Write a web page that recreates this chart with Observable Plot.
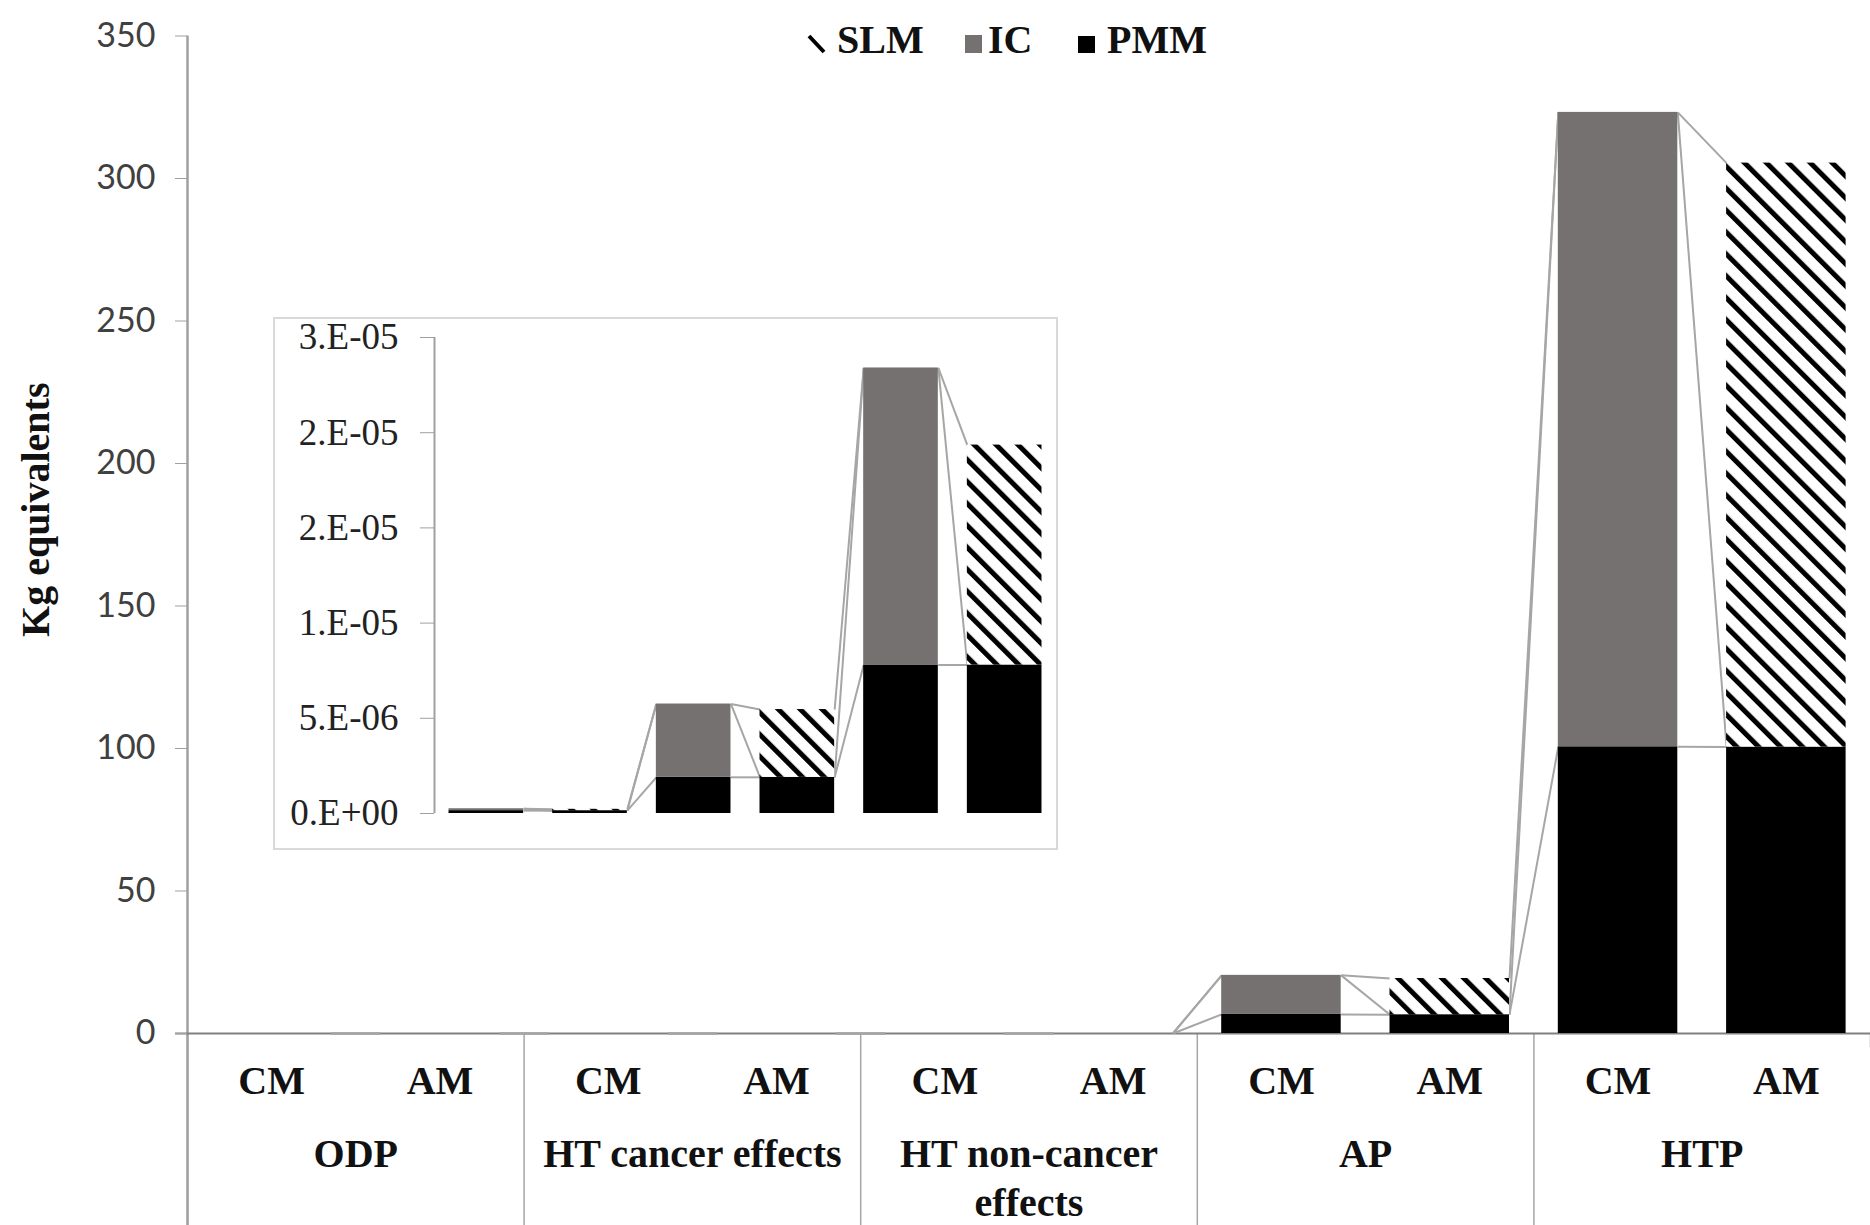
<!DOCTYPE html>
<html><head><meta charset="utf-8">
<script src="https://cdn.jsdelivr.net/npm/d3@7"></script>
<script src="https://cdn.jsdelivr.net/npm/@observablehq/plot@0.6"></script>
<style>
html,body{margin:0;padding:0;background:#fff;}
#root{position:relative;width:1870px;height:1225px;overflow:hidden;background:#fff;}
#main{position:absolute;left:0;top:0;}
#inset{position:absolute;left:273px;top:317px;width:785px;height:533px;border:2px solid #d9d9d9;box-sizing:border-box;background:#fff;}
.legtxt{position:absolute;font-family:"Liberation Serif",serif;font-weight:bold;font-size:40px;line-height:40px;color:#111;white-space:nowrap;}
.sw{position:absolute;}
</style></head>
<body>
<svg width="0" height="0" style="position:absolute">
  <defs>
    <pattern id="hatch" patternUnits="userSpaceOnUse" width="15.5" height="15.5" patternTransform="rotate(-45)">
      <rect width="15.5" height="15.5" fill="#fff"></rect>
      <rect width="5" height="15.5" fill="#000"></rect>
    </pattern>
  </defs>
</svg>
<div id="root">
  <div id="main"></div>
  <div id="inset"></div>
  <div id="legend"></div>
</div>
<script>
// ---- data ----
const groups = ["ODP", "HT cancer effects", "HT non-cancer effects", "AP", "HTP"];
const scenarios = ["CM", "AM"];
const pmm = [1.5e-7, 1.5e-7, 1.9e-6, 1.9e-6, 7.8e-6, 7.8e-6, 6.7, 6.6, 100.6, 100.5];
const ic  = [1.0e-7, 0, 3.85e-6, 0, 1.56e-5, 0, 13.7, 0, 222.6, 0];
const slm = [0, 0.7e-7, 0, 3.56e-6, 0, 1.155e-5, 0, 12.7, 0, 204.9];
const yTicks = [0, 50, 100, 150, 200, 250, 300, 350];
const insetTicks = [0, 5e-6, 1e-5, 1.5e-5, 2e-5, 2.5e-5];
const insetTickLabels = ["0.E+00", "5.E-06", "1.E-05", "2.E-05", "2.E-05", "3.E-05"];
const legendLabels = ["SLM", "IC", "PMM"];
const yLabel = "Kg equivalents";

// ---- derived tables ----
const bars = pmm.map((_, i) => {
  const l1 = pmm[i], l2 = l1 + ic[i], l3 = l2 + slm[i];
  return {i, group: groups[Math.floor(i / 2)], scen: scenarios[i % 2], l1, l2, l3};
});
const groupRows = groups.map((g, k) => ({g, k}));

function seriesLines(rows, pad) {
  const out = [];
  for (let k = 0; k < rows.length - 1; k++) {
    const a = rows[k], b = rows[k + 1];
    for (const lv of ["l1", "l2", "l3"]) out.push({x1: a.i + 1 - pad, x2: b.i + pad, y1: a[lv], y2: b[lv]});
  }
  return out;
}
function barMarks(rows, pad) {
  const x1 = d => d.i + pad, x2 = d => d.i + 1 - pad;
  return [
    Plot.link(seriesLines(rows, pad), {x1: "x1", y1: "y1", x2: "x2", y2: "y2", stroke: "#a6a6a6", strokeWidth: 2}),
    Plot.rect(rows, {x1, x2, y1: 0, y2: "l1", fill: "#000"}),
    Plot.rect(rows, {x1, x2, y1: "l1", y2: "l2", fill: "#767171"}),
    Plot.rect(rows, {x1, x2, y1: "l2", y2: "l3", fill: "url(#hatch)"})
  ];
}

const serif = "Liberation Serif, Times New Roman, serif";
const boundaries = d3.range(0, 10, 2);

const main = Plot.plot({
  width: 1870, height: 1225,
  marginLeft: 187, marginRight: 0, marginTop: 35.5, marginBottom: 192,
  x: {type: "linear", domain: [0, 10], axis: null},
  y: {domain: [0, 350], axis: null},
  style: {background: "transparent", overflow: "visible"},
  marks: [
    Plot.ruleX(boundaries, {x: d => d, y1: 0, y2: 0, insetBottom: -192, stroke: "#a6a6a6", strokeWidth: 1.5}),
    Plot.ruleX([10], {x: d => d, y1: 0, y2: 0, insetBottom: -14, stroke: "#a6a6a6", strokeWidth: 1.5}),
    Plot.ruleX([0], {y1: 350, y2: 0, insetBottom: -192, stroke: "#a0a0a0", strokeWidth: 2.5}),
    Plot.ruleY([0], {insetLeft: -12, stroke: "#808080", strokeWidth: 2}),
    Plot.axisY({ticks: yTicks, tickSize: 12, tickPadding: 20, stroke: "#a0a0a0", fill: "#404040",
      fontSize: 34, fontFamily: "Lato", tickFormat: d => String(d), label: null}),
    Plot.text([yLabel], {frameAnchor: "left", textAnchor: "middle", rotate: -90, dx: -151, dy: -25, fontSize: 40,
      fontWeight: "bold", fontFamily: serif, fill: "#111"}),
    ...barMarks(bars, 0.145),
    Plot.text(bars, {x: d => d.i + 0.5, y: 0, dy: 48, text: "scen", fontSize: 40, fontWeight: "bold",
      fontFamily: serif, fill: "#111", lineAnchor: "middle"}),
    Plot.text(groupRows, {x: d => d.k * 2 + 1, y: 0, dy: 99, text: "g", fontSize: 40, fontWeight: "bold",
      fontFamily: serif, fill: "#111", lineAnchor: "top", lineWidth: 9.3, lineHeight: 1.22})
  ]
});
document.getElementById("main").appendChild(main);

const insetRows = bars.slice(0, 6);
const inset = Plot.plot({
  width: 781, height: 529,
  marginLeft: 159, marginRight: 0, marginTop: 18, marginBottom: 35,
  x: {type: "linear", domain: [0, 6], axis: null},
  y: {domain: [0, 2.5e-5], axis: null},
  style: {background: "transparent", overflow: "visible"},
  marks: [
    Plot.ruleX([0], {y1: 0, y2: 2.5e-5, stroke: "#a0a0a0", strokeWidth: 2}),
    Plot.axisY({ticks: insetTicks, tickSize: 14, tickPadding: 22, stroke: "#a0a0a0", fill: "#222",
      fontSize: 37, fontFamily: serif, tickFormat: d => insetTickLabels[insetTicks.indexOf(d)], label: null}),
    ...barMarks(insetRows, 0.14)
  ]
});
document.getElementById("inset").appendChild(inset);

// ---- legend ----
const leg = document.getElementById("legend");
const swatches = [
  {left: 806, svg: '<svg width="22" height="24"><line x1="3" y1="4" x2="18" y2="20" stroke="#000" stroke-width="4"/></svg>', top: 32, tx: 837},
  {left: 965, svg: '<svg width="17" height="18"><rect width="17" height="18" fill="#767171"/></svg>', top: 35, tx: 988},
  {left: 1078, svg: '<svg width="17" height="17"><rect width="17" height="17" fill="#000"/></svg>', top: 36, tx: 1107}
];
legendLabels.forEach((lab, k) => {
  const s = document.createElement("div");
  s.className = "sw"; s.style.left = swatches[k].left + "px"; s.style.top = swatches[k].top + "px";
  s.innerHTML = swatches[k].svg;
  leg.appendChild(s);
  const t = document.createElement("div");
  t.className = "legtxt"; t.style.left = swatches[k].tx + "px"; t.style.top = "19.5px";
  t.textContent = lab;
  leg.appendChild(t);
});
</script>
</body></html>
